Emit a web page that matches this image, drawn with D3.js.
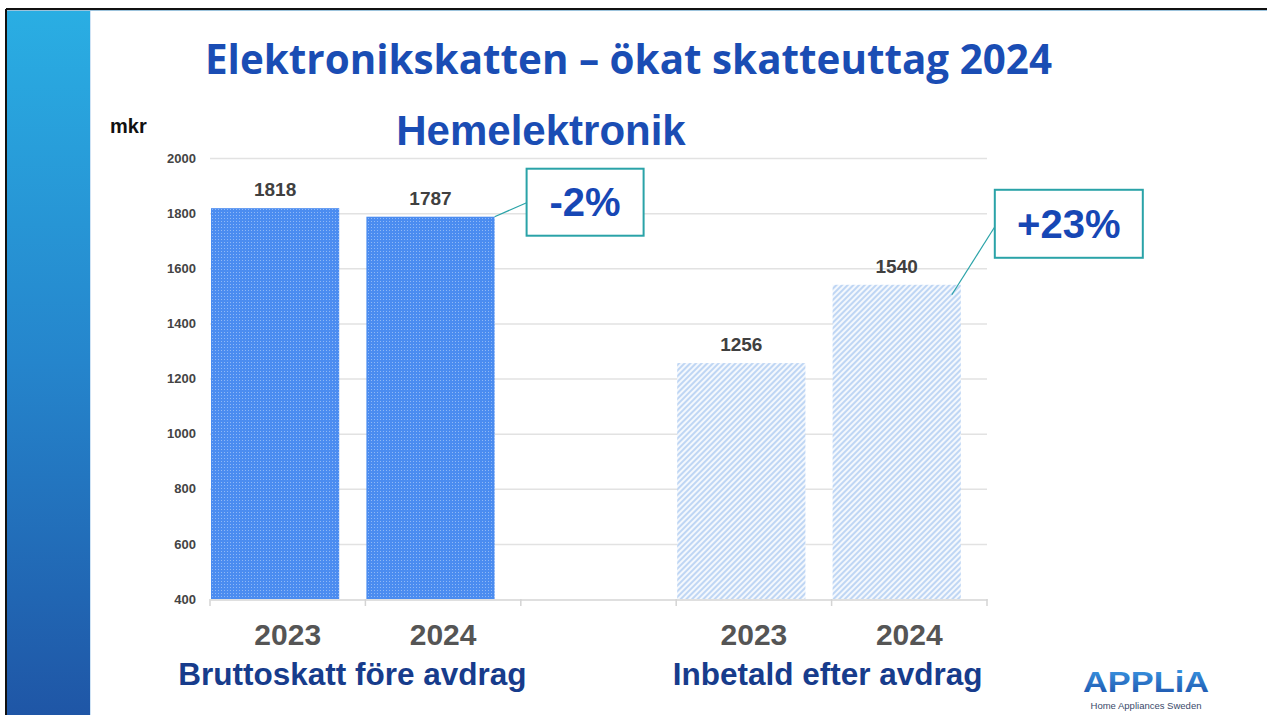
<!DOCTYPE html>
<html>
<head>
<meta charset="utf-8">
<script src="https://cdn.jsdelivr.net/npm/d3@7"></script>
<style>
  body { margin: 0; background: #fff; }
  svg { display: block; }
</style>
</head>
<body>
<svg id="chart"></svg>
<script>
// Data
const slots = ["b2023", "b2024", "gap", "i2023", "i2024"];
const yearLabels = ["2023", "2024", "", "2023", "2024"];
const values = [1818, 1787, null, 1256, 1540];
const barStyle = ["solid", "solid", null, "hatch", "hatch"];
const groups = ["Bruttoskatt före avdrag", "Inbetald efter avdrag"];
const groupSlots = [["b2023", "b2024"], ["i2023", "i2024"]];
const yTicks = [400, 600, 800, 1000, 1200, 1400, 1600, 1800, 2000];
const changes = ["-2%", "+23%"];
const changeBar = ["b2024", "i2024"];

const W = 1267, H = 715;
const svg = d3.select("#chart").attr("width", W).attr("height", H);
const defs = svg.append("defs");

// sidebar gradient
const sg = defs.append("linearGradient").attr("id", "side").attr("x1", 0).attr("y1", 0).attr("x2", 0).attr("y2", 1);
sg.append("stop").attr("offset", "0%").attr("stop-color", "#2aaee3");
sg.append("stop").attr("offset", "50%").attr("stop-color", "#2585cc");
sg.append("stop").attr("offset", "100%").attr("stop-color", "#1f56a6");

// dense blue texture for first group
const p1 = defs.append("pattern").attr("id", "dots").attr("patternUnits", "userSpaceOnUse")
    .attr("width", 3).attr("height", 3);
p1.append("rect").attr("width", 3).attr("height", 3).attr("fill", "#4b8cf0");
p1.append("rect").attr("x", 2).attr("y", 2).attr("width", 1).attr("height", 1).attr("fill", "#8fb8f6");

// diagonal hatch for second group
const p2 = defs.append("pattern").attr("id", "hatch").attr("patternUnits", "userSpaceOnUse")
    .attr("width", 4).attr("height", 4).attr("patternTransform", "rotate(45)");
p2.append("rect").attr("width", 4).attr("height", 4).attr("fill", "#f4f8fd");
p2.append("rect").attr("width", 2).attr("height", 4).attr("fill", "#bfd6f4");

// logo gradient
const lg = defs.append("linearGradient").attr("id", "logo").attr("x1", 0).attr("y1", 0).attr("x2", 0).attr("y2", 1);
lg.append("stop").attr("offset", "0%").attr("stop-color", "#3c9be6");
lg.append("stop").attr("offset", "100%").attr("stop-color", "#1b4fa8");

// frame + sidebar
svg.append("rect").attr("x", 7).attr("y", 10).attr("width", 83).attr("height", H - 10).attr("fill", "url(#side)");
svg.append("line").attr("x1", 90.5).attr("x2", 90.5).attr("y1", 10).attr("y2", H).attr("stroke", "#cfe3f5").attr("stroke-width", 1);
svg.append("line").attr("x1", 6).attr("x2", W).attr("y1", 9).attr("y2", 9).attr("stroke", "#111").attr("stroke-width", 2);
svg.append("line").attr("x1", 6).attr("x2", W).attr("y1", 10.5).attr("y2", 10.5).attr("stroke", "#9cc3dc").attr("stroke-width", 1);
svg.append("line").attr("x1", 6).attr("x2", 6).attr("y1", 9).attr("y2", H).attr("stroke", "#111").attr("stroke-width", 2);

// titles
svg.append("text").attr("x", 205).attr("y", 74)
    .attr("textLength", 847).attr("lengthAdjust", "spacingAndGlyphs")
    .style("font-family", "'Open Sans', sans-serif").style("font-weight", "bold")
    .style("font-size", "41px").attr("fill", "#1a4db4")
    .text("Elektronikskatten – ökat skatteuttag 2024");

svg.append("text").attr("x", 541).attr("y", 145).attr("text-anchor", "middle")
    .style("font-family", "'Liberation Sans', Arial, sans-serif").style("font-weight", "bold")
    .style("font-size", "42px").attr("fill", "#1a4db4")
    .text("Hemelektronik");

svg.append("text").attr("x", 110).attr("y", 133)
    .style("font-family", "'Liberation Sans', Arial, sans-serif").style("font-weight", "bold")
    .style("font-size", "20px").attr("fill", "#111")
    .text("mkr");

// scales
const x = d3.scaleBand().domain(slots).range([210, 987]).paddingInner(0).paddingOuter(0);
const y = d3.scaleLinear().domain([400, 2000]).range([599, 158]);
const barW = x.bandwidth() * 0.825;

// gridlines
svg.append("g").selectAll("line").data(yTicks.filter(d => d > 400)).enter().append("line")
    .attr("x1", 210).attr("x2", 987)
    .attr("y1", d => y(d) + 0.5).attr("y2", d => y(d) + 0.5)
    .attr("stroke", "#e2e2e2").attr("stroke-width", 1.5);

// y axis labels
const yAxis = svg.append("g").attr("transform", "translate(196,0)")
    .call(d3.axisLeft(y).tickValues(yTicks).tickFormat(d3.format("d")).tickSize(0).tickPadding(0));
yAxis.select(".domain").remove();
yAxis.selectAll("text")
    .style("font-family", "'Liberation Sans', Arial, sans-serif").style("font-weight", "bold")
    .style("font-size", "13px").attr("fill", "#444");

// x axis
const xAxis = svg.append("g").attr("transform", "translate(0,599.5)")
    .call(d3.axisBottom(x).tickFormat((d, i) => yearLabels[i]).tickSize(0).tickPadding(24));
xAxis.select(".domain").attr("stroke", "#d4d4d4").attr("stroke-width", 1.5);
xAxis.selectAll("text")
    .style("font-family", "'Liberation Sans', Arial, sans-serif").style("font-weight", "bold")
    .style("font-size", "30px").attr("fill", "#555");
svg.append("g").selectAll("line").data(slots.concat(["end"])).enter().append("line")
    .attr("x1", d => d === "end" ? 987 : x(d)).attr("x2", d => d === "end" ? 987 : x(d))
    .attr("y1", 599).attr("y2", 606).attr("stroke", "#d4d4d4").attr("stroke-width", 1.5);

// bars
const barData = slots.map((s, i) => ({ slot: s, value: values[i], style: barStyle[i] })).filter(d => d.value != null);
svg.append("g").selectAll("rect").data(barData).enter().append("rect")
    .attr("x", d => x(d.slot) + 1).attr("width", barW)
    .attr("y", d => y(d.value)).attr("height", d => y(400) - y(d.value))
    .attr("fill", d => d.style === "solid" ? "url(#dots)" : "url(#hatch)");

// value labels
svg.append("g").selectAll("text").data(barData).enter().append("text")
    .attr("x", d => x(d.slot) + 1 + barW / 2).attr("y", d => y(d.value) - 12)
    .attr("text-anchor", "middle")
    .style("font-family", "'Liberation Sans', Arial, sans-serif").style("font-weight", "bold")
    .style("font-size", "19px").attr("fill", "#404040")
    .text(d => d.value);

// group labels
const groupShift = [-13, -4];
svg.append("g").selectAll("text").data(groups).enter().append("text")
    .attr("x", (d, i) => (x(groupSlots[i][0]) + x(groupSlots[i][1]) + x.bandwidth()) / 2 + groupShift[i])
    .attr("y", 685).attr("text-anchor", "middle")
    .style("font-family", "'Liberation Sans', Arial, sans-serif").style("font-weight", "bold")
    .style("font-size", "31.5px").attr("fill", "#173c8c")
    .text(d => d);

// change callouts
const boxes = [
    { dx: 32, dy: -48, w: 117, h: 67, ax: 0, ay: 0, ly: 34 },
    { dx: 34, dy: -95, w: 148, h: 68, ax: -9, ay: 10, ly: 37 }
];
changes.forEach((c, i) => {
    const s = changeBar[i];
    const v = values[slots.indexOf(s)];
    const bx = x(s) + 1 + barW;
    const by = y(v);
    const b = boxes[i];
    const left = bx + b.dx, top = by + b.dy;
    svg.append("line")
        .attr("x1", bx + b.ax).attr("y1", by + b.ay)
        .attr("x2", left).attr("y2", top + b.ly)
        .attr("stroke", "#2aa3a8").attr("stroke-width", 1.2);
    svg.append("rect").attr("x", left).attr("y", top).attr("width", b.w).attr("height", b.h)
        .attr("fill", "#fff").attr("stroke", "#2aa3a8").attr("stroke-width", 2);
    svg.append("text").attr("x", left + b.w / 2).attr("y", top + b.h / 2 + 14)
        .attr("text-anchor", "middle")
        .style("font-family", "'Liberation Sans', Arial, sans-serif").style("font-weight", "bold")
        .style("font-size", "40px").attr("fill", "#1747b5")
        .text(c);
});

// logo
svg.append("text").attr("x", 1146).attr("y", 692).attr("text-anchor", "middle")
    .attr("textLength", 126).attr("lengthAdjust", "spacingAndGlyphs")
    .style("font-family", "'Liberation Sans', Arial, sans-serif").style("font-weight", "bold")
    .style("font-size", "29px").attr("fill", "url(#logo)")
    .text("APPLiA");
svg.append("text").attr("x", 1146).attr("y", 709).attr("text-anchor", "middle")
    .style("font-family", "'Liberation Sans', Arial, sans-serif")
    .style("font-size", "9.5px").attr("fill", "#3a4a6a")
    .text("Home Appliances Sweden");
</script>
</body>
</html>
